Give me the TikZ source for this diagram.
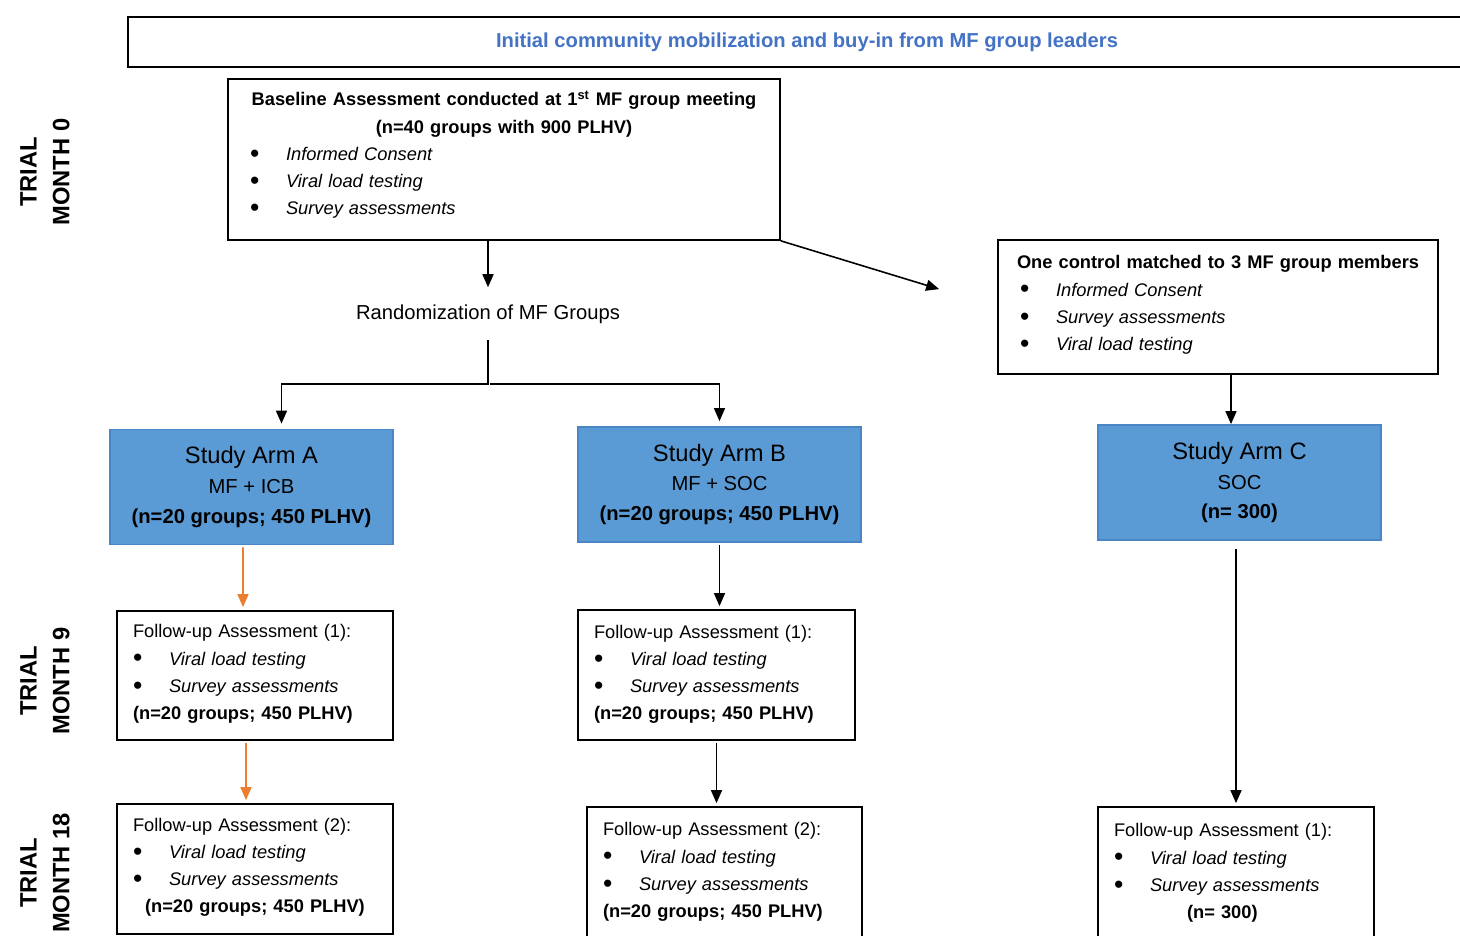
\documentclass[tikz,border=0pt]{standalone}
\usepackage{fontspec}
\setmainfont{Liberation Sans}
\usetikzlibrary{arrows.meta, positioning, calc}

\definecolor{ArmBlue}{HTML}{5B9BD5}
\definecolor{ArmEdge}{HTML}{4A86C5}
\definecolor{BannerBlue}{HTML}{4472C4}
\definecolor{FlowOrange}{HTML}{ED7D31}

\newcommand{\bodyfont}{\fontsize{10.4pt}{15.5pt}\selectfont}
\newcommand{\bul}{\makebox[0.72cm][l]{\raisebox{-0.2ex}{\scalebox{1.45}{\textbullet}}}}
\newcommand{\ctrline}[1]{\makebox[\linewidth][c]{\bfseries #1}}
\newcommand{\lastpad}[1]{\rule[-#1]{0pt}{#1}}

\begin{document}
\begin{tikzpicture}[x=0.02cm, y=-0.02cm,
  frame/.style={draw, line width=1pt, fill=white},
  listbox/.style={frame, align=left, font=\bodyfont, inner ysep=0pt},
  armbox/.style={draw=ArmEdge, line width=1pt, fill=ArmBlue, minimum width=5.66cm,
    minimum height=2.3cm, align=center, inner sep=0pt, font=\fontsize{11.5pt}{17pt}\selectfont},
  flow/.style={-{Triangle[length=0.26cm, width=0.22cm]}, line width=0.9pt,
    shorten <=0.04cm, shorten >=0.06cm},
  phase/.style={rotate=90, align=center, font=\fontsize{13.5pt}{18.7pt}\selectfont\bfseries}]
  \useasboundingbox (0,0) rectangle (1460,936);
  \clip (0,0) rectangle (1460,936);

  % top banner
  \node[frame, minimum width=27.16cm, minimum height=1cm, font=\fontsize{11.5pt}{14pt}\selectfont\bfseries,
    text=BannerBlue] (banner) at (807,42)
    {\raisebox{-0.3ex}{Initial community mobilization and buy-in from MF group leaders}};

  % phase labels
  \node[phase] (m0) at (45,172) {TRIAL\\MONTH 0};
  \node[phase] (m9) at (45,681) {TRIAL\\MONTH 9};
  \node[phase] (m18) at (45,873) {TRIAL\\MONTH 18};

  % baseline and control
  \node[listbox, text width=10.16cm, inner xsep=0.44cm, minimum height=3.22cm] (base) at (504,159.5) {%
    \ctrline{Baseline Assessment conducted at 1\textsuperscript{st} MF group meeting}\\
    \ctrline{(n=40 groups with 900 PLHV)}\\
    \bul\textit{Informed Consent}\\
    \bul\textit{Viral load testing}\\
    \bul\textit{Survey assessments}\lastpad{0.26cm}};
  \node[font=\fontsize{11.5pt}{14pt}\selectfont, inner xsep=0pt, inner ysep=0.28cm] (random) at (488,314)
    {Randomization of MF Groups};
  \coordinate (ctrlin) at (942,290);
  \node[listbox, text width=7.92cm, inner xsep=0.44cm, minimum height=2.68cm] (ctrl) at (1218,307) {%
    \ctrline{One control matched to 3 MF group members}\\
    \bul\textit{Informed Consent}\\
    \bul\textit{Survey assessments}\\
    \bul\textit{Viral load testing}\lastpad{0.16cm}};

  % study arms
  \node[armbox] (armA) at (251.5,487) {{\fontsize{13.5pt}{17pt}\selectfont Study Arm A}\\MF + ICB\\\textbf{(n=20 groups; 450 PLHV)}};
  \node[armbox] (armB) at (719.5,484.5) {{\fontsize{13.5pt}{17pt}\selectfont Study Arm B}\\MF + SOC\\\textbf{(n=20 groups; 450 PLHV)}};
  \node[armbox] (armC) at (1239.5,482.5) {{\fontsize{13.5pt}{17pt}\selectfont Study Arm C}\\SOC\\\textbf{(n= 300)}};

  % follow-up assessments
  \node[listbox, text width=4.88cm, inner xsep=0.32cm, minimum height=2.58cm] (fuA1) at (255,675.5) {%
    Follow-up Assessment (1):\\
    \bul\textit{Viral load testing}\\
    \bul\textit{Survey assessments}\\
    \textbf{(n=20 groups; 450 PLHV)}\lastpad{0.14cm}};
  \node[listbox, text width=4.88cm, inner xsep=0.32cm, minimum height=2.6cm] (fuA2) at (255,869) {%
    Follow-up Assessment (2):\\
    \bul\textit{Viral load testing}\\
    \bul\textit{Survey assessments}\\
    \hspace*{0.24cm}\textbf{(n=20 groups; 450 PLHV)}\lastpad{0.14cm}};
  \node[listbox, text width=4.9cm, inner xsep=0.32cm, minimum height=2.6cm] (fuB1) at (716.5,675) {%
    Follow-up Assessment (1):\\
    \bul\textit{Viral load testing}\\
    \bul\textit{Survey assessments}\\
    \textbf{(n=20 groups; 450 PLHV)}\lastpad{0.1cm}};
  \node[listbox, text width=4.86cm, inner xsep=0.32cm, minimum height=2.66cm] (fuB2) at (724.5,873.5) {%
    Follow-up Assessment (2):\\
    \bul\textit{Viral load testing}\\
    \bul\textit{Survey assessments}\\
    \textbf{(n=20 groups; 450 PLHV)}\lastpad{0.14cm}};
  \node[listbox, text width=4.88cm, inner xsep=0.32cm, minimum height=2.66cm] (fuC) at (1236,873.5) {%
    Follow-up Assessment (1):\\
    \bul\textit{Viral load testing}\\
    \bul\textit{Survey assessments}\\
    \hspace*{1.46cm}\textbf{(n= 300)}\lastpad{0.1cm}};

  % connectors
  \coordinate (split) at ([yshift=-0.92cm]random.south);
  \draw[flow, shorten <=0pt] (base.south -| random.north) -- (random.north);
  \draw[flow, shorten <=0pt] (base.south east) -- (ctrlin);
  \draw[flow, shorten >=0.1cm] (random.south) -- (split) -| ([xshift=0.6cm]armA.north);
  \draw[flow, shorten >=0.1cm] (split) -| (armB.north);
  \draw[flow, shorten <=0pt, shorten >=0pt] ([xshift=0.26cm]ctrl.south) -- ([xshift=-0.17cm]armC.north);
  \draw[flow, FlowOrange] ([xshift=-0.17cm]armA.south) -- ([xshift=-0.24cm]fuA1.north);
  \draw[flow, FlowOrange] ([xshift=-0.18cm]fuA1.south) -- ([xshift=-0.18cm]fuA2.north);
  \draw[flow] (armB.south) -- (armB.south |- fuB1.north);
  \draw[flow] (fuB1.south) -- (fuB1.south |- fuB2.north);
  \draw[flow, shorten <=0.16cm] (fuC.north |- armC.south) -- (fuC.north);
\end{tikzpicture}
\end{document}
